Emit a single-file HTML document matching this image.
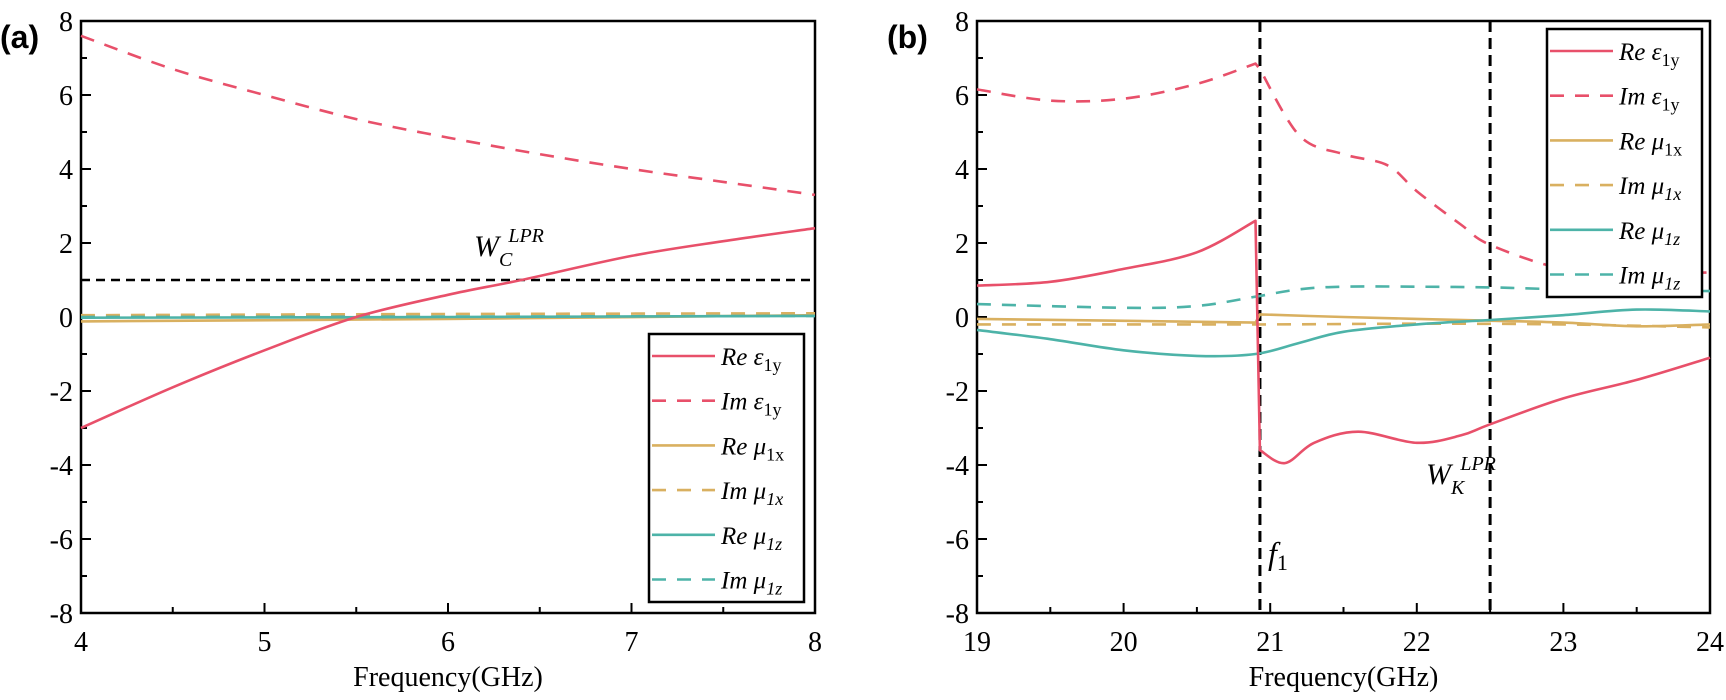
<!DOCTYPE html>
<html><head><meta charset="utf-8"><style>
body{margin:0;background:#fff;}
svg text{font-family:"Liberation Serif",serif;}
</style></head><body>
<svg id="fig" width="1726" height="695" xmlns="http://www.w3.org/2000/svg"></svg>
<script>
// Panel (a) data
const aX = [4,4.5,5,5.5,6,6.4,7,7.5,8];
const aReEps = [-3.0,-1.9,-0.9,0.0,0.6,1.0,1.65,2.05,2.4];
const aImEpsX = [4,4.5,5,5.5,6,6.5,7,7.5,8];
const aImEps = [7.6,6.7,6.0,5.35,4.85,4.4,4.0,3.65,3.3];
const aFlatX = [4,6,8];
const aReMux = [-0.12,-0.05,0.05];
const aImMux = [0.05,0.08,0.1];
const aReMuz = [-0.02,0.0,0.03];
const aImMuz = [0.0,0.01,0.03];
const aXTicks = [4,5,6,7,8];
const yTicks = [-8,-6,-4,-2,0,2,4,6,8];
// Panel (b) data
const bReEpsX = [19,19.5,20,20.5,20.9,20.93,21.1,21.3,21.6,22,22.3,22.5,23,23.5,24];
const bReEps = [0.85,0.95,1.3,1.75,2.6,-3.6,-3.95,-3.4,-3.1,-3.4,-3.2,-2.9,-2.2,-1.7,-1.1];
const bImEpsX = [19,19.5,20,20.5,20.9,20.93,21.2,21.5,21.8,22,22.3,22.5,23,23.5,24];
const bImEps = [6.15,5.85,5.9,6.3,6.85,6.7,4.9,4.4,4.1,3.4,2.5,1.95,1.3,1.2,1.2];
const bImMuzX = [19,20,20.5,20.9,21.2,21.5,22,22.5,23,24];
const bImMuz = [0.35,0.25,0.3,0.55,0.75,0.82,0.82,0.8,0.75,0.7];
const bReMuxX = [19,20.9,20.93,21.5,22,22.5,23,23.5,24];
const bReMux = [-0.05,-0.15,0.07,0.0,-0.05,-0.1,-0.15,-0.25,-0.2];
const bImMuxX = [19,20,21,22,23,24];
const bImMux = [-0.2,-0.2,-0.2,-0.18,-0.2,-0.28];
const bReMuzX = [19,19.5,20,20.5,20.9,21.2,21.5,22,22.5,23,23.5,24];
const bReMuz = [-0.35,-0.6,-0.9,-1.05,-1.0,-0.7,-0.4,-0.2,-0.08,0.05,0.2,0.15];
const bXTicks = [19,20,21,22,23,24];
const bVLines = [20.93,22.5];

const NS="http://www.w3.org/2000/svg";
const svg=document.getElementById('fig');
function mk(tag,attrs,parent){const e=document.createElementNS(NS,tag);for(const k in attrs)e.setAttribute(k,attrs[k]);(parent||svg).appendChild(e);return e;}
const RED="#e8506a",GOLD="#d9b060",TEAL="#4db3a8";

function panel(name,L,R,x0,x1,T,B){
  const g=mk('g',{});
  
  
  const sx=v=>L+(v-x0)/(x1-x0)*(R-L);
  const sy=v=>T+(8-v)/16*(B-T);
  return {g,sx,sy,L,R,T,B};
}
function axes(p,xt,minorStep){
  const {g,sx,sy,L,R,T,B}=p;
  yTicks.forEach(v=>{
    const t=mk('line',{x1:L,x2:L+10,y1:sy(v),y2:sy(v),stroke:'#000','stroke-width':2},g);
    
    
    const lb=mk('text',{x:L-8,y:sy(v)+10,'text-anchor':'end','font-size':28},g);
    lb.textContent=v;
    
    
    if(v<8){const m=mk('line',{x1:L,x2:L+6,y1:sy(v+1),y2:sy(v+1),stroke:'#000','stroke-width':2},g);
    
    }
  });
  xt.forEach((v,i)=>{
    const t=mk('line',{x1:sx(v),x2:sx(v),y1:B,y2:B-10,stroke:'#000','stroke-width':2},g);
    
    
    const lb=mk('text',{x:sx(v),y:B+38,'text-anchor':'middle','font-size':28},g);
    lb.textContent=v;
    
    
    if(i<xt.length-1){const m=mk('line',{x1:sx(v+minorStep),x2:sx(v+minorStep),y1:B,y2:B-6,stroke:'#000','stroke-width':2},g);
    
    }
  });
  const fr=mk('rect',{x:L,y:T,width:R-L,height:B-T,fill:'none',stroke:'#000','stroke-width':2.5},g);
  
  
  const xl=mk('text',{x:(L+R)/2,y:B+73,'text-anchor':'middle','font-size':28},g);
  xl.textContent='Frequency(GHz)';
  
  
}
function smoothPath(pts,first){
  let d=(first?'M':'L')+pts[0][0].toFixed(1)+','+pts[0][1].toFixed(1);
  for(let i=0;i<pts.length-1;i++){
    const p0=pts[Math.max(i-1,0)],p1=pts[i],p2=pts[i+1],p3=pts[Math.min(i+2,pts.length-1)];
    const c1=[p1[0]+(p2[0]-p0[0])/6,p1[1]+(p2[1]-p0[1])/6];
    const c2=[p2[0]-(p3[0]-p1[0])/6,p2[1]-(p3[1]-p1[1])/6];
    d+='C'+c1[0].toFixed(1)+','+c1[1].toFixed(1)+' '+c2[0].toFixed(1)+','+c2[1].toFixed(1)+' '+p2[0].toFixed(1)+','+p2[1].toFixed(1);
  }
  return d;
}
function series(p,xs,ys,color,dash,name){
  // split into segments at discontinuities (tiny x gap); join segments with straight lines
  const segs=[[]];
  xs.forEach((x,i)=>{
    if(i>0 && x-xs[i-1]<0.05) segs.push([]);
    segs[segs.length-1].push([p.sx(x),p.sy(ys[i])]);
  });
  let d='';
  segs.forEach((s,k)=>{ d+=smoothPath(s,k===0); });
  const a={d,fill:'none',stroke:color,'stroke-width':2.6,'stroke-linejoin':'round'};
  if(dash)a['stroke-dasharray']='14,11';
  const e=mk('path',a,p.g);
  
  
}
function legend(g,x,y){
  const box=mk('rect',{x,y,width:155,height:268,fill:'#fff',stroke:'#000','stroke-width':2.5},g);
  
  
  const items=[[RED,0,'Re','ε','1y',false],[RED,1,'Im','ε','1y',false],[GOLD,0,'Re','μ','1x',false],[GOLD,1,'Im','μ','1x',true],[TEAL,0,'Re','μ','1z',true],[TEAL,1,'Im','μ','1z',true]];
  items.forEach((it,i)=>{
    const cy=y+22+i*44.7;
    const l=mk('line',{x1:x+3,x2:x+66,y1:cy,y2:cy,stroke:it[0],'stroke-width':2.6},g);
    if(it[1])l.setAttribute('stroke-dasharray','14,11');
    
    
    const t=mk('text',{x:x+72,y:cy+9,'font-size':25,'font-style':'italic'},g);
    t.innerHTML=it[2]+' '+it[3]+'<tspan font-size="18" dy="6" font-style="'+(it[5]?'italic':'normal')+'">'+it[4]+'</tspan>';
    
    
  });
}
function label(g,x,y,txt,name){
  const t=mk('text',{x,y,'font-size':32,'font-weight':'bold'},g);
  t.style.fontFamily='"Liberation Sans",sans-serif';
  t.textContent=txt;
  
  
}

// Panel a
const pa=panel('panel-a',81,815,4,8,21,613);
axes(pa,aXTicks,0.5);
const hl=mk('line',{x1:pa.L,x2:pa.R,y1:pa.sy(1),y2:pa.sy(1),stroke:'#000','stroke-width':2.5,'stroke-dasharray':'9,6'},pa.g);


series(pa,aImEpsX,aImEps,RED,true,'im-eps-1y');
series(pa,aFlatX,aImMux,GOLD,true,'im-mu-1x');
series(pa,aFlatX,aReMux,GOLD,false,'re-mu-1x');
series(pa,aFlatX,aImMuz,TEAL,true,'im-mu-1z');
series(pa,aFlatX,aReMuz,TEAL,false,'re-mu-1z');
series(pa,aX,aReEps,RED,false,'re-eps-1y');
const wc=mk('text',{x:474,y:256,'font-size':30,'font-style':'italic'},pa.g);
wc.innerHTML='W<tspan font-size="20" dy="10">C</tspan><tspan font-size="20" dy="-24" dx="-4">LPR</tspan>';


legend(pa.g,649,334);
label(svg,0,48,'(a)','panel-a-label');

// Panel b
const pb=panel('panel-b',977,1710,19,24,21,613);
axes(pb,bXTicks,0.5);
bVLines.forEach(v=>{
  const l=mk('line',{x1:pb.sx(v),x2:pb.sx(v),y1:pb.T,y2:pb.B,stroke:'#000','stroke-width':3,'stroke-dasharray':'11,6'},pb.g);
  
  
});
series(pb,bImEpsX,bImEps,RED,true,'im-eps-1y');
series(pb,bImMuzX,bImMuz,TEAL,true,'im-mu-1z');
series(pb,bImMuxX,bImMux,GOLD,true,'im-mu-1x');
series(pb,bReMuxX,bReMux,GOLD,false,'re-mu-1x');
series(pb,bReMuzX,bReMuz,TEAL,false,'re-mu-1z');
series(pb,bReEpsX,bReEps,RED,false,'re-eps-1y');
const wk=mk('text',{x:1426,y:484,'font-size':30,'font-style':'italic'},pb.g);
wk.innerHTML='W<tspan font-size="20" dy="10">K</tspan><tspan font-size="20" dy="-24" dx="-4">LPR</tspan>';


const f1=mk('text',{x:1268,y:564,'font-size':32,'font-style':'italic'},pb.g);
f1.innerHTML='f<tspan font-size="22" dy="6" font-style="normal">1</tspan>';


legend(pb.g,1547,29);
label(svg,887,48,'(b)','panel-b-label');
</script>
</body></html>
